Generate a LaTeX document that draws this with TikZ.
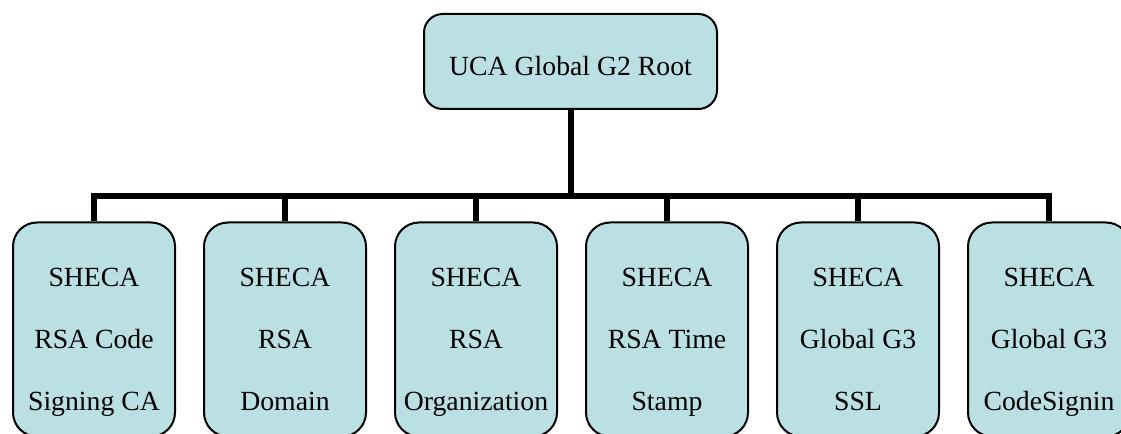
\documentclass[tikz,border=0pt]{standalone}
\usepackage{fontspec}
\setmainfont{Liberation Serif}
\usepackage{tikz}
\usetikzlibrary{calc, positioning}
\definecolor{boxfill}{RGB}{187,224,227}
\tikzstyle{rootca} =[draw, fill=boxfill, line width=1.5pt, rounded corners=14pt, minimum width=219.75pt, minimum height=71.25pt]
\tikzstyle{subca} =[draw, fill=boxfill, line width=1.5pt, rounded corners=18pt, minimum width=121.5pt, minimum height=160.5pt]
\tikzstyle{caname} =[align=center, inner sep=0pt, font=\fontsize{20.8}{46.5}\selectfont]
\tikzstyle{link} =[line width=4.5pt]

\begin{document}
\begin{tikzpicture}[x=0.75pt, y=-0.75pt]
        \useasboundingbox (0,0) rectangle (1121,434);
        \clip (0,0) rectangle (1121,434);

        % Root
        \node[rootca] (root) at (570.5,61.5) {};
        \node[caname, anchor=base] (rootname) at ($(root.center)+(0,14.5)$) {UCA Global G2 Root};

        %% Subordinate CAs
        \node[subca] (ca1) at (94,329.5) {};
        \node[subca, right=20.25pt of ca1] (ca2) {};
        \node[subca, right=20.25pt of ca2] (ca3) {};
        \node[subca, right=20.25pt of ca3] (ca4) {};
        \node[subca, right=20.25pt of ca4] (ca5) {};
        \node[subca, right=20.25pt of ca5] (ca6) {};

        \foreach \i/\txt in {1/{SHECA\strut\\RSA Code\strut\\Signing CA\strut}, 2/{SHECA\strut\\RSA\strut\\Domain\strut}, 3/{SHECA\strut\\RSA\strut\\Organization\strut}, 4/{SHECA\strut\\RSA Time\strut\\Stamp\strut}, 5/{SHECA\strut\\Global G3\strut\\SSL\strut}, 6/{SHECA\strut\\Global G3\strut\\CodeSignin\strut}} {
                \node[caname] (name\i) at ($(ca\i.center)+(0,7)$) {\txt};
            }

        %% Links
        \coordinate (bus) at (0,196);
        \draw[link] (root.south) -- (root.south |- bus);
        \draw[link] (ca1.north) -- (ca1.north |- bus) -- (ca6.north |- bus) -- (ca6.north);
        \foreach \i in {2,...,5} {
                \draw[link] (ca\i.north) -- (ca\i.north |- bus);
            }

    \end{tikzpicture}
\end{document}
